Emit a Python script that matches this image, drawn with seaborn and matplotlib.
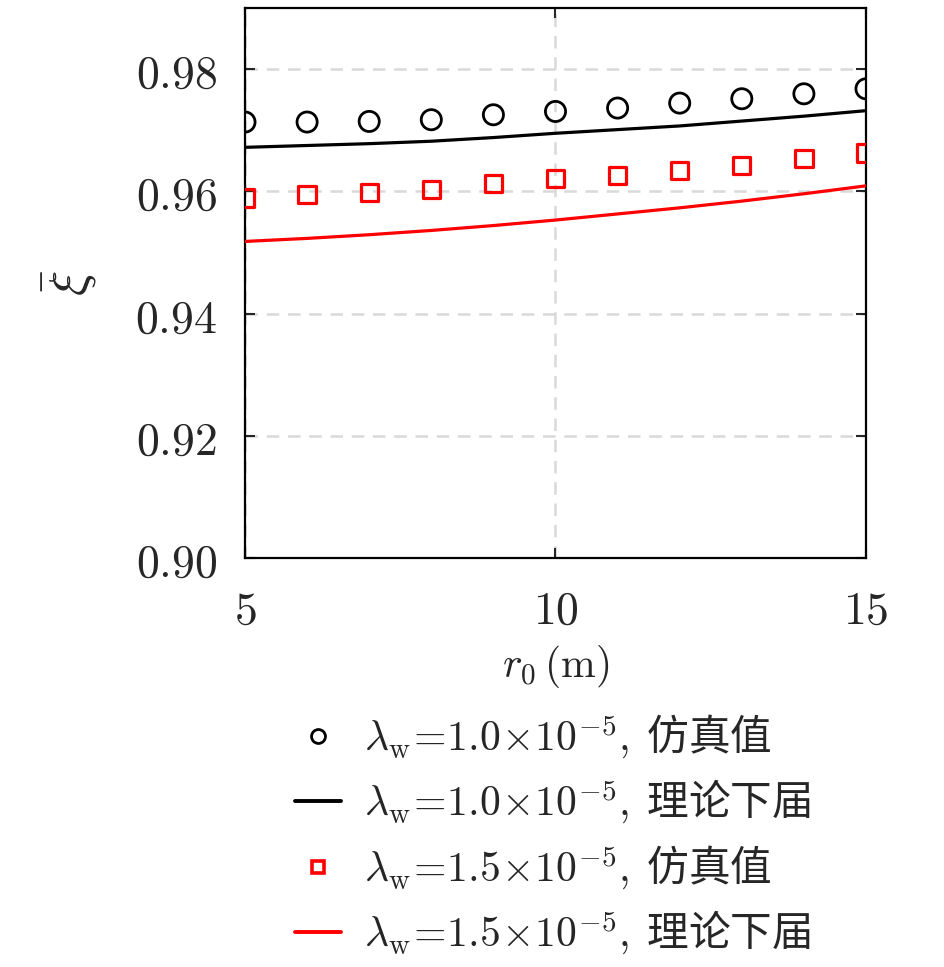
import numpy as np
import pandas as pd
import matplotlib
matplotlib.use("Agg")
import matplotlib.pyplot as plt
import seaborn as sns
from matplotlib.lines import Line2D

# ---- data ----
r0 = [5, 6, 7, 8, 9, 10, 11, 12, 13, 14, 15]
sim_10 = [0.97134, 0.97134, 0.97144, 0.97172, 0.97253, 0.97307, 0.97363, 0.97444, 0.97515, 0.97596, 0.97678]
theo_10 = [0.9672, 0.9675, 0.9678, 0.9682, 0.9688, 0.9695, 0.9701, 0.9707, 0.9715, 0.9723, 0.9732]
sim_15 = [0.95892, 0.95946, 0.95984, 0.96028, 0.96126, 0.96212, 0.96261, 0.96338, 0.96420, 0.96534, 0.96627]
theo_15 = [0.9518, 0.9523, 0.9529, 0.9536, 0.9544, 0.9553, 0.9563, 0.9573, 0.9584, 0.9596, 0.9609]
x_ticks = [5, 10, 15]
y_ticks = [0.90, 0.92, 0.94, 0.96, 0.98]
labels = [r"$\lambda_{\rm w}\!=\!1.0\!\times\!10^{-5},$ 仿真值",
          r"$\lambda_{\rm w}\!=\!1.0\!\times\!10^{-5},$ 理论下届",
          r"$\lambda_{\rm w}\!=\!1.5\!\times\!10^{-5},$ 仿真值",
          r"$\lambda_{\rm w}\!=\!1.5\!\times\!10^{-5},$ 理论下届"]

sns.set_theme(style="white")
plt.rcParams['font.family'] = ['Noto Sans CJK SC', 'DejaVu Sans']
plt.rcParams['mathtext.fontset'] = 'cm'
plt.rcParams['axes.unicode_minus'] = False

df = pd.DataFrame({"r0": r0, "s10": sim_10, "t10": theo_10, "s15": sim_15, "t15": theo_15})

fig = plt.figure(figsize=(9.45, 9.67), dpi=100)
ax = fig.add_axes([245/945, 1-558/967, 621/945, 550/967])

ax.grid(True, linestyle=(0, (5, 3.5)), color='#d9d9d9', linewidth=1.8)
ax.set_axisbelow(True)

sns.scatterplot(data=df, x="r0", y="s10", ax=ax, marker='o', s=14.5**2,
                facecolor='none', edgecolor='black', linewidth=2.0, zorder=3, legend=False)
sns.lineplot(data=df, x="r0", y="t10", ax=ax, color='black', linewidth=2.3, zorder=3, legend=False)
sns.scatterplot(data=df, x="r0", y="s15", ax=ax, marker='s', s=12.5**2,
                facecolor='none', edgecolor='red', linewidth=2.3, zorder=3, legend=False)
sns.lineplot(data=df, x="r0", y="t15", ax=ax, color='red', linewidth=2.3, zorder=3, legend=False)

ax.set_xlim(5, 15)
ax.set_ylim(0.90, 0.99)
ax.set_xticks(x_ticks)
ax.set_yticks(y_ticks)
ax.set_xticklabels([f"${v}$" for v in x_ticks], fontsize=33, color='#262626')
ax.set_yticklabels([f"${v:.2f}$" for v in y_ticks], fontsize=33, color='#262626')
ax.tick_params(direction='in', length=7, width=1.5, top=True, right=True, pad=20,
               bottom=True, left=True)
for sp in ax.spines.values():
    sp.set_color('black')
    sp.set_linewidth(1.6)

ax.set_xlabel(r"$r_0\,(\mathrm{m})$", fontsize=30, labelpad=6, color='#262626')
ax.set_ylabel(r"$\bar{\xi}$", fontsize=38, labelpad=26, color='#262626')

handles = [
    Line2D([], [], marker='o', linestyle='none', markerfacecolor='none', markeredgecolor='black',
           markersize=10, markeredgewidth=2.0),
    Line2D([], [], color='black', linewidth=2.8),
    Line2D([], [], marker='s', linestyle='none', markerfacecolor='none', markeredgecolor='red',
           markersize=9, markeredgewidth=2.6),
    Line2D([], [], color='red', linewidth=2.8),
]
fig.legend(handles, labels, loc='upper center', bbox_to_anchor=(553/945, 1-696/967),
           frameon=False, fontsize=30, handlelength=1.1, labelspacing=0.4,
           handletextpad=0.55, borderaxespad=0)

fig.savefig("out.png", dpi=100)
